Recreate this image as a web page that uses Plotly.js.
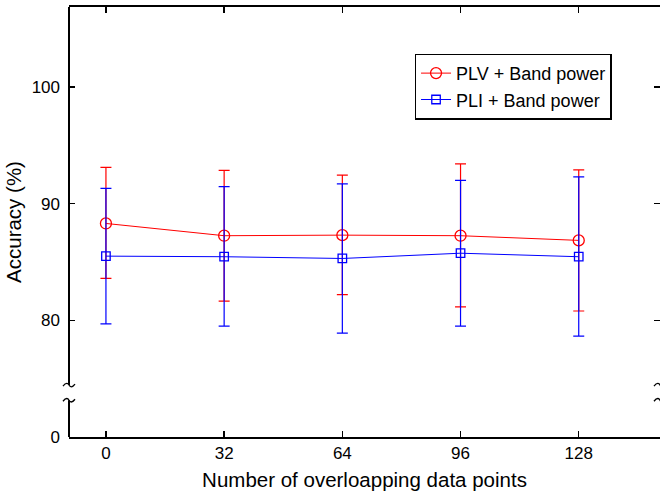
<!DOCTYPE html>
<html><head><meta charset="utf-8">
<script src="https://cdn.plot.ly/plotly-3.0.1.min.js"></script>
<style>html,body{margin:0;padding:0;background:#fff;overflow:hidden}</style>
</head><body>
<div id="chart" style="width:660px;height:498px"></div>
<script>
// Data
const overlap = [0, 32, 64, 96, 128];
const plvMean  = [88.3, 87.25, 87.3, 87.25, 86.85];
const plvUpper = [93.1, 92.85, 92.45, 93.4, 92.9];
const plvLower = [83.6, 81.65, 82.2, 81.15, 80.8];
const pliMean  = [85.5, 85.45, 85.3, 85.75, 85.45];
const pliUpper = [91.3, 91.45, 91.7, 92.0, 92.3];
const pliLower = [79.7, 79.5, 78.9, 79.5, 78.65];
const xTicks = [0, 32, 64, 96, 128];
// broken axis: the value 70 stands for 0 below the break
const yTickVals = [70, 80, 90, 100];
const yTickText = ['0', '80', '90', '100'];

const FONT = 'Arial, "Liberation Sans", sans-serif';
const plus = (u, m) => u.map((v, i) => v - m[i]);
const minus = (l, m) => l.map((v, i) => m[i] - v);

const traces = [
  {
    x: overlap, y: plvMean, type: 'scatter', mode: 'lines+markers',
    name: 'PLV + Band power',
    line: {color: '#ff0000', width: 1},
    marker: {symbol: 'circle-open', size: 11, color: '#ff0000', line: {width: 1.3, color: '#ff0000'}},
    error_y: {type: 'data', symmetric: false, array: plus(plvUpper, plvMean), arrayminus: minus(plvLower, plvMean),
              color: '#ff0000', thickness: 1.2, width: 5.5}
  },
  {
    x: overlap, y: pliMean, type: 'scatter', mode: 'lines+markers',
    name: 'PLI + Band power',
    line: {color: '#0000ff', width: 1},
    marker: {symbol: 'square-open', size: 8.5, color: '#0000ff', line: {width: 1.3, color: '#0000ff'}},
    error_y: {type: 'data', symmetric: false, array: plus(pliUpper, pliMean), arrayminus: minus(pliLower, pliMean),
              color: '#0000ff', thickness: 1.2, width: 5.5}
  },
  {
    // carrier for the mirrored top/right tick axes
    x: overlap, y: plvMean, xaxis: 'x2', yaxis: 'y2', type: 'scatter', mode: 'markers',
    marker: {opacity: 0}, showlegend: false, hoverinfo: 'skip'
  }
];

const Y0 = 70, YTOP = 106.85, BRK_LO = 73.15, BRK_HI = 74.45;
function squiggle(xp, yv) {
  return {type: 'path', xref: 'paper', yref: 'y', xsizemode: 'pixel', ysizemode: 'pixel',
          xanchor: xp, yanchor: yv, path: 'M-6,-1 C-3,3 -1,2 0,0 C1,-2 3,-3 6,1',
          line: {color: 'black', width: 1.3}, layer: 'above'};
}
const shapes = [
  {type: 'line', xref: 'paper', yref: 'y', x0: 0, x1: 0, y0: Y0, y1: BRK_LO, line: {color: 'black', width: 2}},
  {type: 'line', xref: 'paper', yref: 'y', x0: 0, x1: 0, y0: BRK_HI, y1: YTOP, line: {color: 'black', width: 2}},
  squiggle(0, BRK_LO), squiggle(0, BRK_HI), squiggle(1, BRK_LO), squiggle(1, BRK_HI)
];

const layout = {
  width: 660, height: 498,
  margin: {l: 69, r: 0, t: 7, b: 61},
  paper_bgcolor: '#fff', plot_bgcolor: '#fff',
  font: {family: FONT, color: '#000', size: 17},
  showlegend: true,
  legend: {x: 0.585, y: 0.8916, xanchor: 'left', yanchor: 'top',
           bgcolor: '#fff', bordercolor: '#000', borderwidth: 1.3,
           font: {family: FONT, size: 18, color: '#000'}, tracegroupgap: 0},
  xaxis: {range: [-10, 150], tickvals: xTicks, ticktext: xTicks.map(String),
          ticks: 'inside', ticklen: 6, tickwidth: 1.5, tickcolor: '#000',
          showline: true, linecolor: '#000', linewidth: 2, showgrid: false, zeroline: false,
          tickfont: {size: 17}, title: {text: 'Number of overloapping data points', font: {size: 20.5}, standoff: 10}},
  xaxis2: {overlaying: 'x', matches: 'x', side: 'top', anchor: 'y', tickvals: xTicks,
           ticks: 'inside', ticklen: 6, tickwidth: 1.5, tickcolor: '#000', showticklabels: false,
           showline: true, linecolor: '#000', linewidth: 2, showgrid: false, zeroline: false},
  yaxis: {range: [Y0, YTOP], tickvals: yTickVals, ticktext: yTickText,
          ticks: 'inside', ticklen: 6, tickwidth: 1.5, tickcolor: '#000',
          showline: false, showgrid: false, zeroline: false, ticklabelstandoff: 8,
          tickfont: {size: 17}, title: {text: 'Accuracy (%)', font: {size: 20.5}, standoff: 4}},
  yaxis2: {overlaying: 'y', matches: 'y', side: 'right', anchor: 'x', tickvals: [80, 90, 100],
           ticks: 'inside', ticklen: 6, tickwidth: 1.5, tickcolor: '#000', showticklabels: false,
           showline: false, showgrid: false, zeroline: false},
  shapes: shapes
};

Plotly.newPlot('chart', traces, layout, {displayModeBar: false, staticPlot: true});
</script>
</body></html>
